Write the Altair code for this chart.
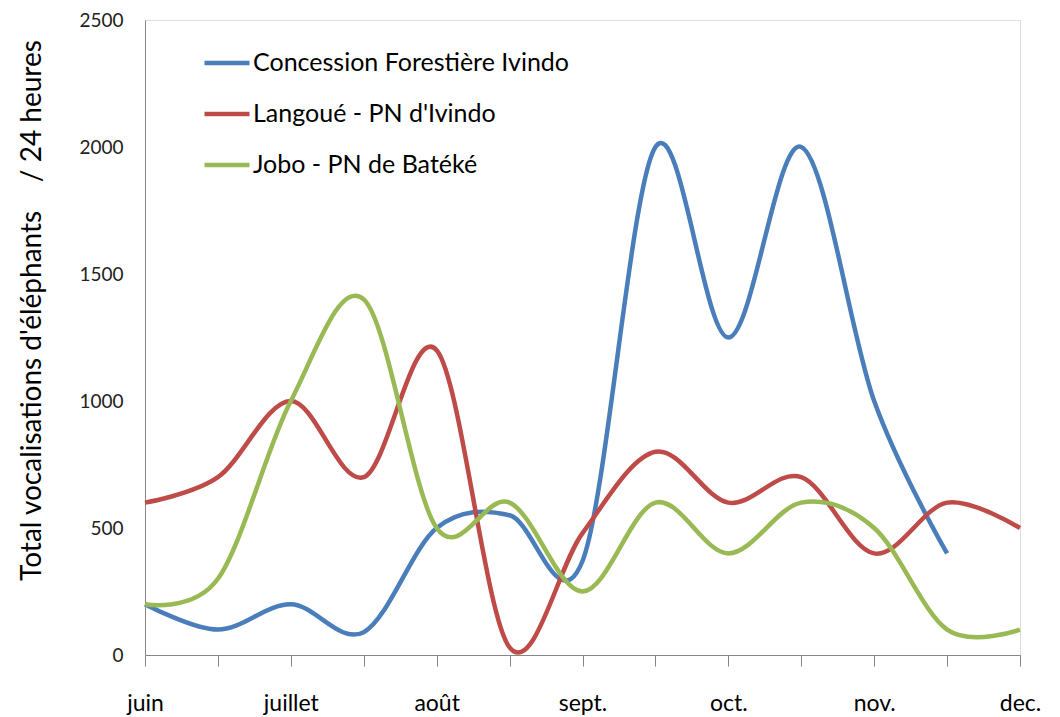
import altair as alt
import pandas as pd

positions = list(range(13))
month_labels = ["juin", "", "juillet", "", "août", "", "sept.", "", "oct.", "", "nov.", "", "dec."]
series_names = ["Concession Forestière Ivindo", "Langoué - PN d'Ivindo", "Jobo - PN de Batéké"]
concession = [200, 100, 200, 90, 500, 550, 370, 2000, 1250, 2000, 1000, 400, None]
langoue = [600, 700, 1000, 700, 1200, 30, 480, 800, 600, 700, 400, 600, 500]
jobo = [200, 300, 1000, 1400, 500, 600, 250, 600, 400, 600, 500, 100, 100]
colors = ["#4A7EBB", "#BE4B48", "#98B954"]

rows = []
for name, vals in zip(series_names, [concession, langoue, jobo]):
    for p, v in zip(positions, vals):
        if v is not None:
            rows.append({"pos": p, "val": v, "serie": name})
df = pd.DataFrame(rows)

label_expr = "[" + ",".join("'%s'" % m for m in month_labels) + "][datum.value]"
FONT = "Lato"
NB = "\u00a0"

chart = alt.Chart(df).mark_line(interpolate="cardinal", strokeWidth=4.5).encode(
    x=alt.X("pos:Q", scale=alt.Scale(domain=[0, 12], nice=False),
            axis=alt.Axis(values=positions, labelExpr=label_expr, title=None, grid=False,
                          domainColor="#868686", tickColor="#868686", tickSize=11,
                          labelFontSize=23, labelColor="#000000", labelPadding=26,
                          labelFont=FONT, labelFlush=False)),
    y=alt.Y("val:Q", scale=alt.Scale(domain=[0, 2500], nice=False),
            axis=alt.Axis(values=[0, 500, 1000, 1500, 2000, 2500], format="d", grid=False, ticks=False,
                          domainColor="#868686", labelFontSize=19, labelColor="#222222",
                          labelPadding=22, labelFont=FONT,
                          title="Total vocalisations d'éléphants" + NB * 4 + "/ 24 heures",
                          titleFont=FONT, titleFontSize=28, titleFontWeight="normal",
                          titleColor="#000000", titleAngle=-90, titleX=-113, titleY=290,
                          titleAlign="center", titleBaseline="middle")),
    color=alt.Color("serie:N", scale=alt.Scale(domain=series_names, range=colors),
                    sort=series_names,
                    legend=alt.Legend(orient="none", legendX=57, legendY=18, title=None,
                                      symbolType="stroke", symbolSize=2025, symbolStrokeWidth=4.5,
                                      labelFontSize=25, labelFont=FONT, labelColor="#000000",
                                      labelOffset=1, rowPadding=13, labelLimit=500)),
).properties(
    width=875, height=635,
    autosize=alt.AutoSizeParams(type="none"),
    padding={"left": 137, "top": 12, "right": 24, "bottom": 62},
).configure_view(stroke=None).configure(background="#ffffff")

chart.save("out.html", embed_options={"renderer": "svg", "actions": False})
